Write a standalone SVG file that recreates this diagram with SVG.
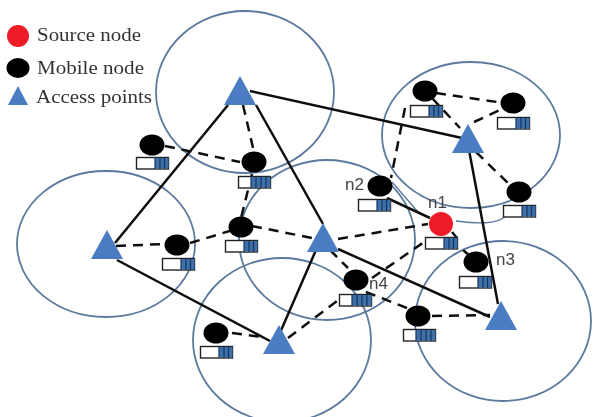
<svg xmlns="http://www.w3.org/2000/svg" width="593" height="417" viewBox="0 0 593 417">
<defs>
<filter id="soft" x="-5%" y="-5%" width="110%" height="110%"><feGaussianBlur stdDeviation="0.6"/></filter>
<g id="bat"><rect x="0.5" y="0.5" width="32" height="11.5" fill="#fff" stroke="#222" stroke-width="1.4"/><rect x="19" y="1" width="13.5" height="10.5" fill="#3e6fa8"/><path d="M19 0.5V12M24 0.5V12M28.500 0.500V12" stroke="#16365e" stroke-width="1.2" fill="none"/></g>
<g id="bat4"><rect x="0.5" y="0.5" width="32" height="11.5" fill="#fff" stroke="#222" stroke-width="1.4"/><rect x="13" y="1" width="19.5" height="10.5" fill="#3e6fa8"/><path d="M13 0.5V12M18 0.5V12M23 0.5V12M28 0.5V12" stroke="#16365e" stroke-width="1.2" fill="none"/></g>
<polygon id="ap" points="0,-15 16,14 -16,14" fill="#4a7cc0"/>
</defs>
<style>
.cell{fill:none;stroke:#5b7a9e;stroke-width:1.8}
.solid{fill:none;stroke:#111;stroke-width:2.5}
.dash{fill:none;stroke:#111;stroke-width:2.5;stroke-dasharray:10 7}
.thin{fill:none;stroke:#5b7a9e;stroke-width:1.4}
.node{fill:#050505}
text{font-family:"Liberation Serif",serif;font-size:18px;fill:#333}
.lb{font-family:"Liberation Sans",sans-serif;font-size:17px;fill:#444}
</style>
<rect width="593" height="417" fill="#fff"/>
<g filter="url(#soft)">
<g id="connectors">
<ellipse class="cell" cx="245" cy="92" rx="89" ry="81"/>
<ellipse class="cell" cx="106" cy="244" rx="89" ry="73"/>
<ellipse class="cell" cx="327" cy="240" rx="88" ry="80"/>
<ellipse class="cell" cx="282" cy="340" rx="89" ry="82"/>
<ellipse class="cell" cx="503" cy="321" rx="88" ry="80"/>
<ellipse class="cell" cx="471" cy="135" rx="89" ry="73"/>
<path class="thin" d="M392 182L418 212M456 221C480 224 495 224 505 217"/>
<path class="solid" d="M250 91L462 138M228 105L115 243M256 105L323 224M117 260L270 341M469 150L498 304M316 250L276 342M338 249L490 317M387 198L430 218"/>
<path class="dash" d="M243 105L254 152M165 146L240 162M252 174L241 218M190 243L233 230M116 246L165 244M252 226L312 238M338 239L428 224M288 338L345 295M372 278L430 238M330 250L348 268M366 292L412 310M432 316L490 315M232 333L262 337M436 93L504 103M432 98L460 128M474 122L504 108M476 152L509 184M405 108L391 178"/>
<path class="solid" d="M452 232L457 238M463 250L470 256"/>
</g>
<g id="ap1"><use href="#ap" x="240" y="91"/></g>
<g id="ap2"><use href="#ap" x="468" y="139"/></g>
<g id="ap3"><use href="#ap" x="107" y="245"/></g>
<g id="ap4"><use href="#ap" x="323" y="238"/></g>
<g id="ap5"><use href="#ap" x="279" y="340"/></g>
<g id="ap6"><use href="#ap" x="501" y="316"/></g>
<g id="m1"><ellipse class="node" cx="152" cy="145" rx="12.500" ry="10.500"/><use href="#bat" x="136" y="157"/></g>
<g id="m2"><ellipse class="node" cx="254" cy="162" rx="12.500" ry="10.500"/><use href="#bat4" x="238" y="176"/></g>
<g id="m3"><ellipse class="node" cx="241" cy="227" rx="12.500" ry="10.500"/><use href="#bat" x="225" y="240"/></g>
<g id="m4"><ellipse class="node" cx="177" cy="245" rx="12.500" ry="10.500"/><use href="#bat" x="162" y="258"/></g>
<g id="n4"><ellipse class="node" cx="356" cy="280" rx="12.500" ry="10.500"/><use href="#bat4" x="339" y="294"/><text class="lb" x="369" y="289">n4</text></g>
<g id="m5"><ellipse class="node" cx="418" cy="316" rx="12.500" ry="10.500"/><use href="#bat4" x="403" y="329"/></g>
<g id="m6"><ellipse class="node" cx="216" cy="333" rx="12.500" ry="10.500"/><use href="#bat" x="200" y="346"/></g>
<g id="n3"><ellipse class="node" cx="476" cy="262" rx="12.500" ry="10.500"/><use href="#bat" x="459" y="276"/><text class="lb" x="496" y="265">n3</text></g>
<g id="n2"><ellipse class="node" cx="380" cy="186" rx="12.500" ry="10.500"/><use href="#bat" x="358" y="199"/><text class="lb" x="345" y="190">n2</text></g>
<g id="m7"><ellipse class="node" cx="425" cy="91" rx="12.500" ry="10.500"/><use href="#bat" x="410" y="105"/></g>
<g id="m8"><ellipse class="node" cx="513" cy="103" rx="12.500" ry="10.500"/><use href="#bat" x="497" y="117"/></g>
<g id="m9"><ellipse class="node" cx="519" cy="192" rx="12.500" ry="10.500"/><use href="#bat" x="503" y="205"/></g>
<g id="n1"><circle cx="441" cy="224" r="12" fill="#ee1c25"/><use href="#bat" x="425" y="237"/><text class="lb" x="428" y="208">n1</text></g>
<g id="legend">
<circle cx="18" cy="36" r="11" fill="#ee1c25"/>
<ellipse class="node" cx="18" cy="68" rx="11.500" ry="10"/>
<polygon points="18,86 28,105 8,105" fill="#4a7cc0"/>
<text x="37" y="41" textLength="104" lengthAdjust="spacingAndGlyphs">Source node</text>
<text x="37" y="74" textLength="107" lengthAdjust="spacingAndGlyphs">Mobile node</text>
<text x="36" y="103" textLength="116" lengthAdjust="spacingAndGlyphs">Access points</text>
</g>
</g>
</svg>
